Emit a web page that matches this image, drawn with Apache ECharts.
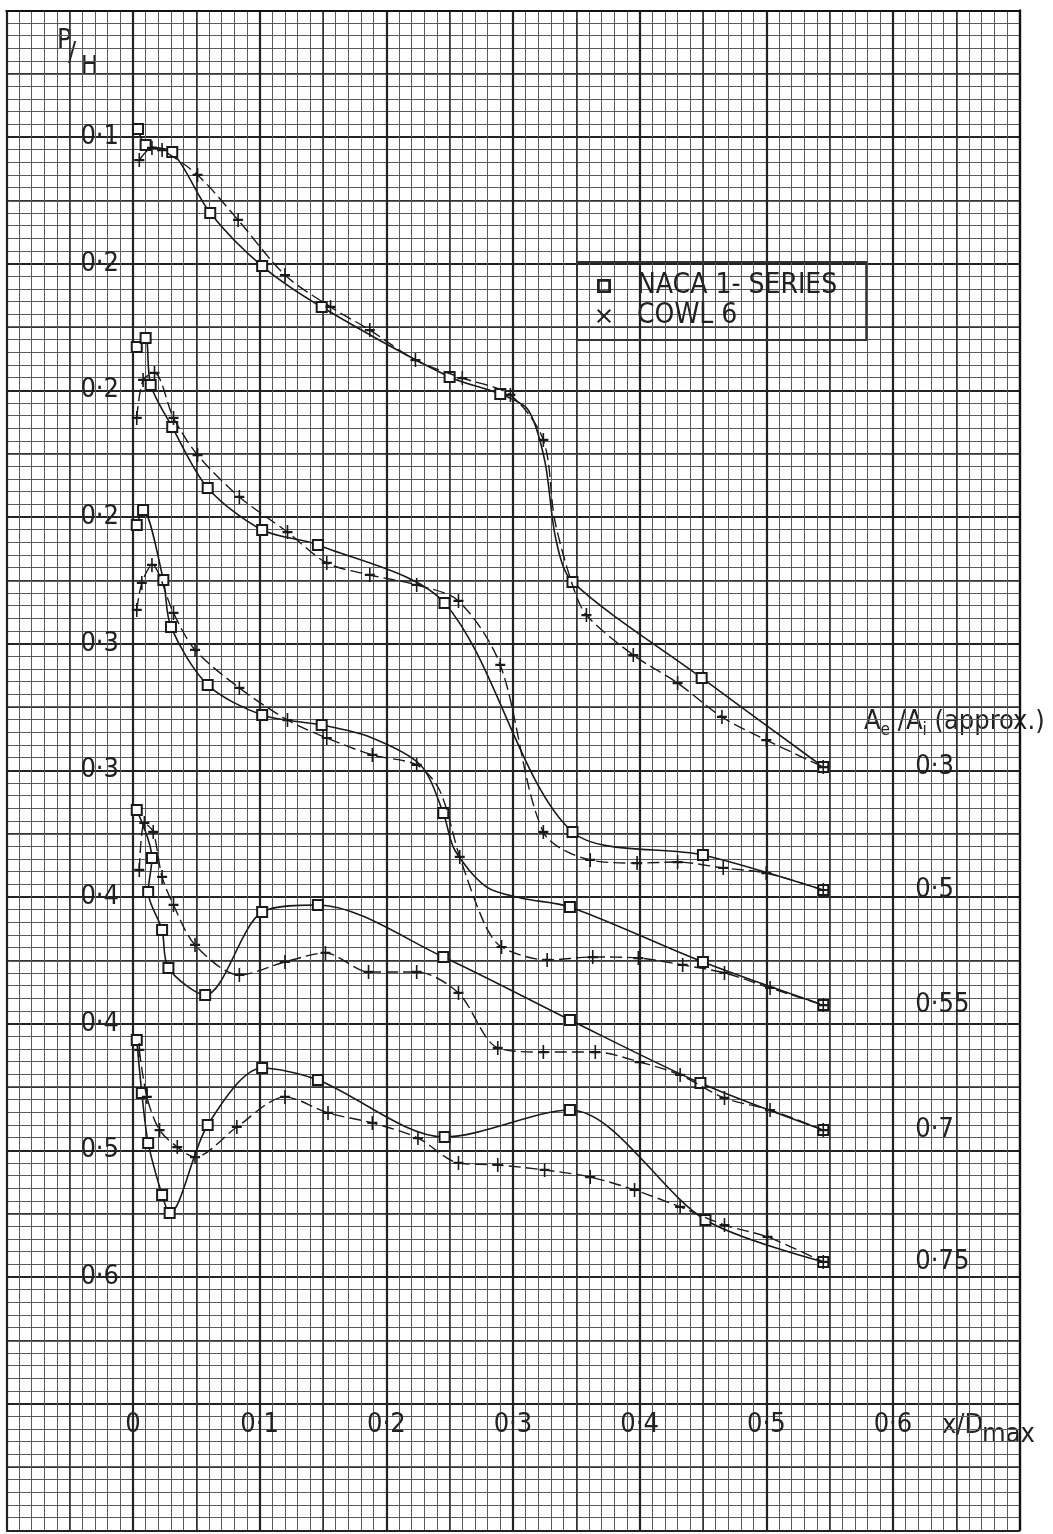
<!DOCTYPE html>
<html>
<head>
<meta charset="utf-8">
<script src="https://cdn.jsdelivr.net/npm/echarts@6/dist/echarts.min.js"></script>
<style>
  html, body { margin: 0; padding: 0; background: #fff; }
  #chart { width: 1053px; height: 1534px; }
</style>
</head>
<body>
<div id="chart"></div>
<script>
// Tick labels of the sheet
const xTickLabels = ['0', '0·1', '0·2', '0·3', '0·4', '0·5', '0·6'];
const yTickLabels = ['', '0·1', '0·2', '0·2', '0·2', '0·3', '0·3', '0·4', '0·4', '0·5', '0·6'];
const areaRatios = ['0·3', '0·5', '0·55', '0·7', '0·75'];

// Each curve: [x/Dmax, P/H position on the staggered sheet scale];
// a third entry of 0 marks a point on the faired curve that carries no symbol.
// NACA 1-series (square points)
const naca03 = [[0.004,0.0937],[0.010,0.1063],[0.031,0.1119],[0.061,0.1600],[0.102,0.2019],[0.149,0.2342],[0.250,0.2895],[0.290,0.3029],[0.312,0.3155,0],[0.325,0.3550,0],[0.334,0.4182,0],[0.347,0.4513],[0.449,0.5271],[0.545,0.5974]];
const naca05 = [[0.003,0.2658],[0.010,0.2587],[0.014,0.2958],[0.031,0.3290],[0.059,0.3771],[0.102,0.4103],[0.146,0.4221],[0.246,0.4679],[0.347,0.6487],[0.450,0.6669],[0.545,0.6945]];
const naca055 = [[0.003,0.4063],[0.008,0.3945],[0.024,0.4497],[0.030,0.4868],[0.059,0.5326],[0.102,0.5563],[0.149,0.5642],[0.187,0.5737,0],[0.227,0.5958,0],[0.245,0.6337],[0.254,0.6629,0],[0.279,0.6921,0],[0.306,0.7008,0],[0.345,0.7079],[0.450,0.7513],[0.545,0.7853]];
const naca07 = [[0.003,0.6314],[0.015,0.6693],[0.012,0.6961],[0.023,0.7261],[0.028,0.7561],[0.057,0.7774],[0.102,0.7119],[0.146,0.7063],[0.245,0.7474],[0.345,0.7971],[0.448,0.8469],[0.545,0.8840]];
const naca075 = [[0.003,0.8129],[0.007,0.8547],[0.012,0.8942],[0.023,0.9353],[0.029,0.9495],[0.059,0.8800],[0.102,0.8350],[0.146,0.8445],[0.246,0.8895],[0.345,0.8682],[0.452,0.9550],[0.545,0.9881]];

// Cowl 6 (cross points)
const cowl03 = [[0.005,0.1182],[0.015,0.1087],[0.023,0.1103],[0.051,0.1300],[0.083,0.1655],[0.120,0.2090],[0.156,0.2342],[0.187,0.2524],[0.223,0.2761],[0.260,0.2903],[0.298,0.3037],[0.324,0.3392],[0.333,0.4024,0],[0.347,0.4537,0],[0.358,0.4774],[0.395,0.5090],[0.430,0.5311],[0.465,0.5579],[0.500,0.5761],[0.545,0.5974]];
const cowl05 = [[0.003,0.3218],[0.008,0.2918],[0.017,0.2863],[0.032,0.3218],[0.051,0.3511],[0.084,0.3842],[0.122,0.4119],[0.153,0.4363],[0.187,0.4458],[0.224,0.4537],[0.257,0.4663],[0.290,0.5168],[0.324,0.6487],[0.361,0.6708],[0.398,0.6732],[0.430,0.6724],[0.466,0.6771],[0.500,0.6811],[0.545,0.6945]];
const cowl055 = [[0.003,0.4734],[0.007,0.4521],[0.015,0.4379],[0.032,0.4758],[0.049,0.5050],[0.084,0.5350],[0.122,0.5603],[0.153,0.5745],[0.189,0.5879],[0.224,0.5958],[0.242,0.6155,0],[0.258,0.6684],[0.278,0.7221,0],[0.291,0.7395],[0.327,0.7497],[0.363,0.7474],[0.399,0.7482],[0.434,0.7537],[0.467,0.7600],[0.503,0.7718],[0.545,0.7853]];
const cowl07 = [[0.005,0.6787],[0.009,0.6416],[0.016,0.6487],[0.023,0.6842],[0.032,0.7063],[0.049,0.7379],[0.084,0.7616],[0.120,0.7513],[0.152,0.7442],[0.186,0.7592],[0.224,0.7592],[0.257,0.7758],[0.288,0.8192],[0.324,0.8224],[0.365,0.8224],[0.400,0.8303],[0.432,0.8405],[0.467,0.8587],[0.503,0.8682],[0.545,0.8840]];
const cowl075 = [[0.005,0.8208],[0.011,0.8579],[0.021,0.8840],[0.035,0.8974],[0.049,0.9053],[0.082,0.8816],[0.120,0.8579],[0.154,0.8705],[0.189,0.8784],[0.225,0.8903],[0.257,0.9100],[0.288,0.9116],[0.325,0.9155],[0.361,0.9211],[0.396,0.9313],[0.432,0.9447],[0.467,0.9590],[0.501,0.9684],[0.545,0.9881]];

const nacaCurves = [naca03, naca05, naca055, naca07, naca075];
const cowlCurves = [cowl03, cowl05, cowl055, cowl07, cowl075];

const FONT = '"Liberation Sans Narrow", "DejaVu Sans Condensed", "Liberation Sans", sans-serif';
const INK = '#1a1a1a';
const PLUS = 'path://M4.2,0H5.8V4.2H10V5.8H5.8V10H4.2V5.8H0V4.2H4.2Z';
const SQUARE_ICON = 'path://M0,0H10V10H0Z M2,2V8H8V2Z';
const X_ICON = 'path://M0,1L1,0L5,4L9,0L10,1L6,5L10,9L9,10L5,6L1,10L0,9L4,5Z';

const fineLine = { color: '#5a5a5a', width: 1 };
const midLine = { color: '#2a2a2a', width: 1.5 };
const boldLine = { color: '#111', width: 2.2 };

// plotted points carry their symbol; faired-curve points do not
const toItems = (curve) => curve.map((p) => (p[2] === 0 ? { value: [p[0], p[1]], symbol: 'none' } : [p[0], p[1]]));

const series = [];
nacaCurves.forEach((d, i) => {
  series.push({
    type: 'line', name: 'NACA 1- SERIES', data: toItems(d),
    smooth: 0.3, symbol: 'emptyRect', symbolSize: 10, showAllSymbol: true,
    lineStyle: { color: INK, width: 1.6 },
    itemStyle: { color: INK, borderWidth: 1.5 },
    endLabel: {
      show: true, formatter: areaRatios[i], distance: 92,
      color: '#222', fontFamily: FONT, fontSize: 27
    },
    z: 5
  });
});
cowlCurves.forEach((d) => {
  series.push({
    type: 'line', name: 'COWL 6', data: toItems(d),
    smooth: 0.3, symbol: PLUS, symbolSize: [10, 14], showAllSymbol: true,
    lineStyle: { color: INK, width: 1.4, type: [12, 5] },
    itemStyle: { color: INK },
    z: 6
  });
});

const chart = echarts.init(document.getElementById('chart'), null, { renderer: 'canvas' });
chart.setOption({
  animation: false,
  backgroundColor: '#fff',
  grid: { left: 6.3, right: 33.4, top: 10.3, bottom: 3.7, outerBoundsMode: 'none', containLabel: false },
  xAxis: [
    {
      type: 'value', position: 'bottom', min: -0.1, max: 0.7, interval: 0.1,
      offset: -126.7,
      axisLine: { show: false, onZero: false }, axisTick: { show: false },
      axisLabel: {
        margin: 8, color: '#222', fontFamily: FONT, fontSize: 27, hideOverlap: false,
        formatter: (v) => { const i = Math.round(v * 10); return (i >= 0 && i < xTickLabels.length) ? xTickLabels[i] : ''; }
      },
      splitLine: { show: true, lineStyle: boldLine },
      minorTick: { show: false, splitNumber: 10 },
      minorSplitLine: { show: true, lineStyle: fineLine }
    },
    {
      type: 'value', position: 'top', min: -0.1, max: 0.7, interval: 0.05,
      axisLine: { show: true, onZero: false, lineStyle: boldLine }, axisTick: { show: false },
      axisLabel: { show: false },
      splitLine: { show: true, lineStyle: midLine }
    }
  ],
  yAxis: [
    {
      type: 'value', position: 'left', inverse: true, min: 0, max: 1.2, interval: 0.1,
      offset: -126.7,
      axisLine: { show: false, onZero: false }, axisTick: { show: false },
      axisLabel: {
        margin: 14, color: '#222', fontFamily: FONT, fontSize: 27, hideOverlap: false,
        formatter: (v) => { const i = Math.round(v * 10); return yTickLabels[i] || ''; }
      },
      splitLine: { show: true, lineStyle: boldLine },
      minorTick: { show: false, splitNumber: 10 },
      minorSplitLine: { show: true, lineStyle: fineLine }
    },
    {
      type: 'value', position: 'right', inverse: true, min: 0, max: 1.2, interval: 0.05,
      axisLine: { show: true, onZero: false, lineStyle: boldLine }, axisTick: { show: false },
      axisLabel: { show: false },
      splitLine: { show: true, lineStyle: midLine }
    }
  ],
  legend: {
    left: 577, top: 262, orient: 'vertical',
    padding: [9, 29, 9, 20], itemGap: 0, itemWidth: 56, itemHeight: 14,
    borderColor: '#333', borderWidth: 2,
    data: [
      { name: 'NACA 1- SERIES', icon: SQUARE_ICON },
      { name: 'COWL 6', icon: X_ICON }
    ],
    itemStyle: { color: '#222', borderWidth: 0 },
    lineStyle: { width: 0 },
    textStyle: { color: '#222', fontFamily: FONT, fontSize: 28, lineHeight: 30 },
    selectedMode: false
  },
  graphic: [
    { type: 'text', left: 57, top: 27, style: { text: 'P', fill: '#222', fontFamily: FONT, fontSize: 27 } },
    { type: 'text', left: 68, top: 40, style: { text: '/', fill: '#222', fontFamily: FONT, fontSize: 27 } },
    { type: 'text', left: 81, top: 54, style: { text: 'H', fill: '#222', fontFamily: FONT, fontSize: 25 } },
    { type: 'text', left: 942, top: 1412, style: { text: 'x/D', fill: '#222', fontFamily: FONT, fontSize: 27 } },
    { type: 'text', left: 982, top: 1421, style: { text: 'max', fill: '#222', fontFamily: FONT, fontSize: 27 } },
    {
      type: 'text', left: 864, top: 708,
      style: {
        text: '{a|A}{s|e}{a| /A}{s|i}{a| (approx.)}', fill: '#222',
        rich: {
          a: { fontFamily: FONT, fontSize: 27, fill: '#222', verticalAlign: 'bottom' },
          s: { fontFamily: FONT, fontSize: 17, fill: '#222', verticalAlign: 'bottom', padding: [0, 0, -4, 0] }
        }
      }
    }
  ],
  series
});
</script>
</body>
</html>
